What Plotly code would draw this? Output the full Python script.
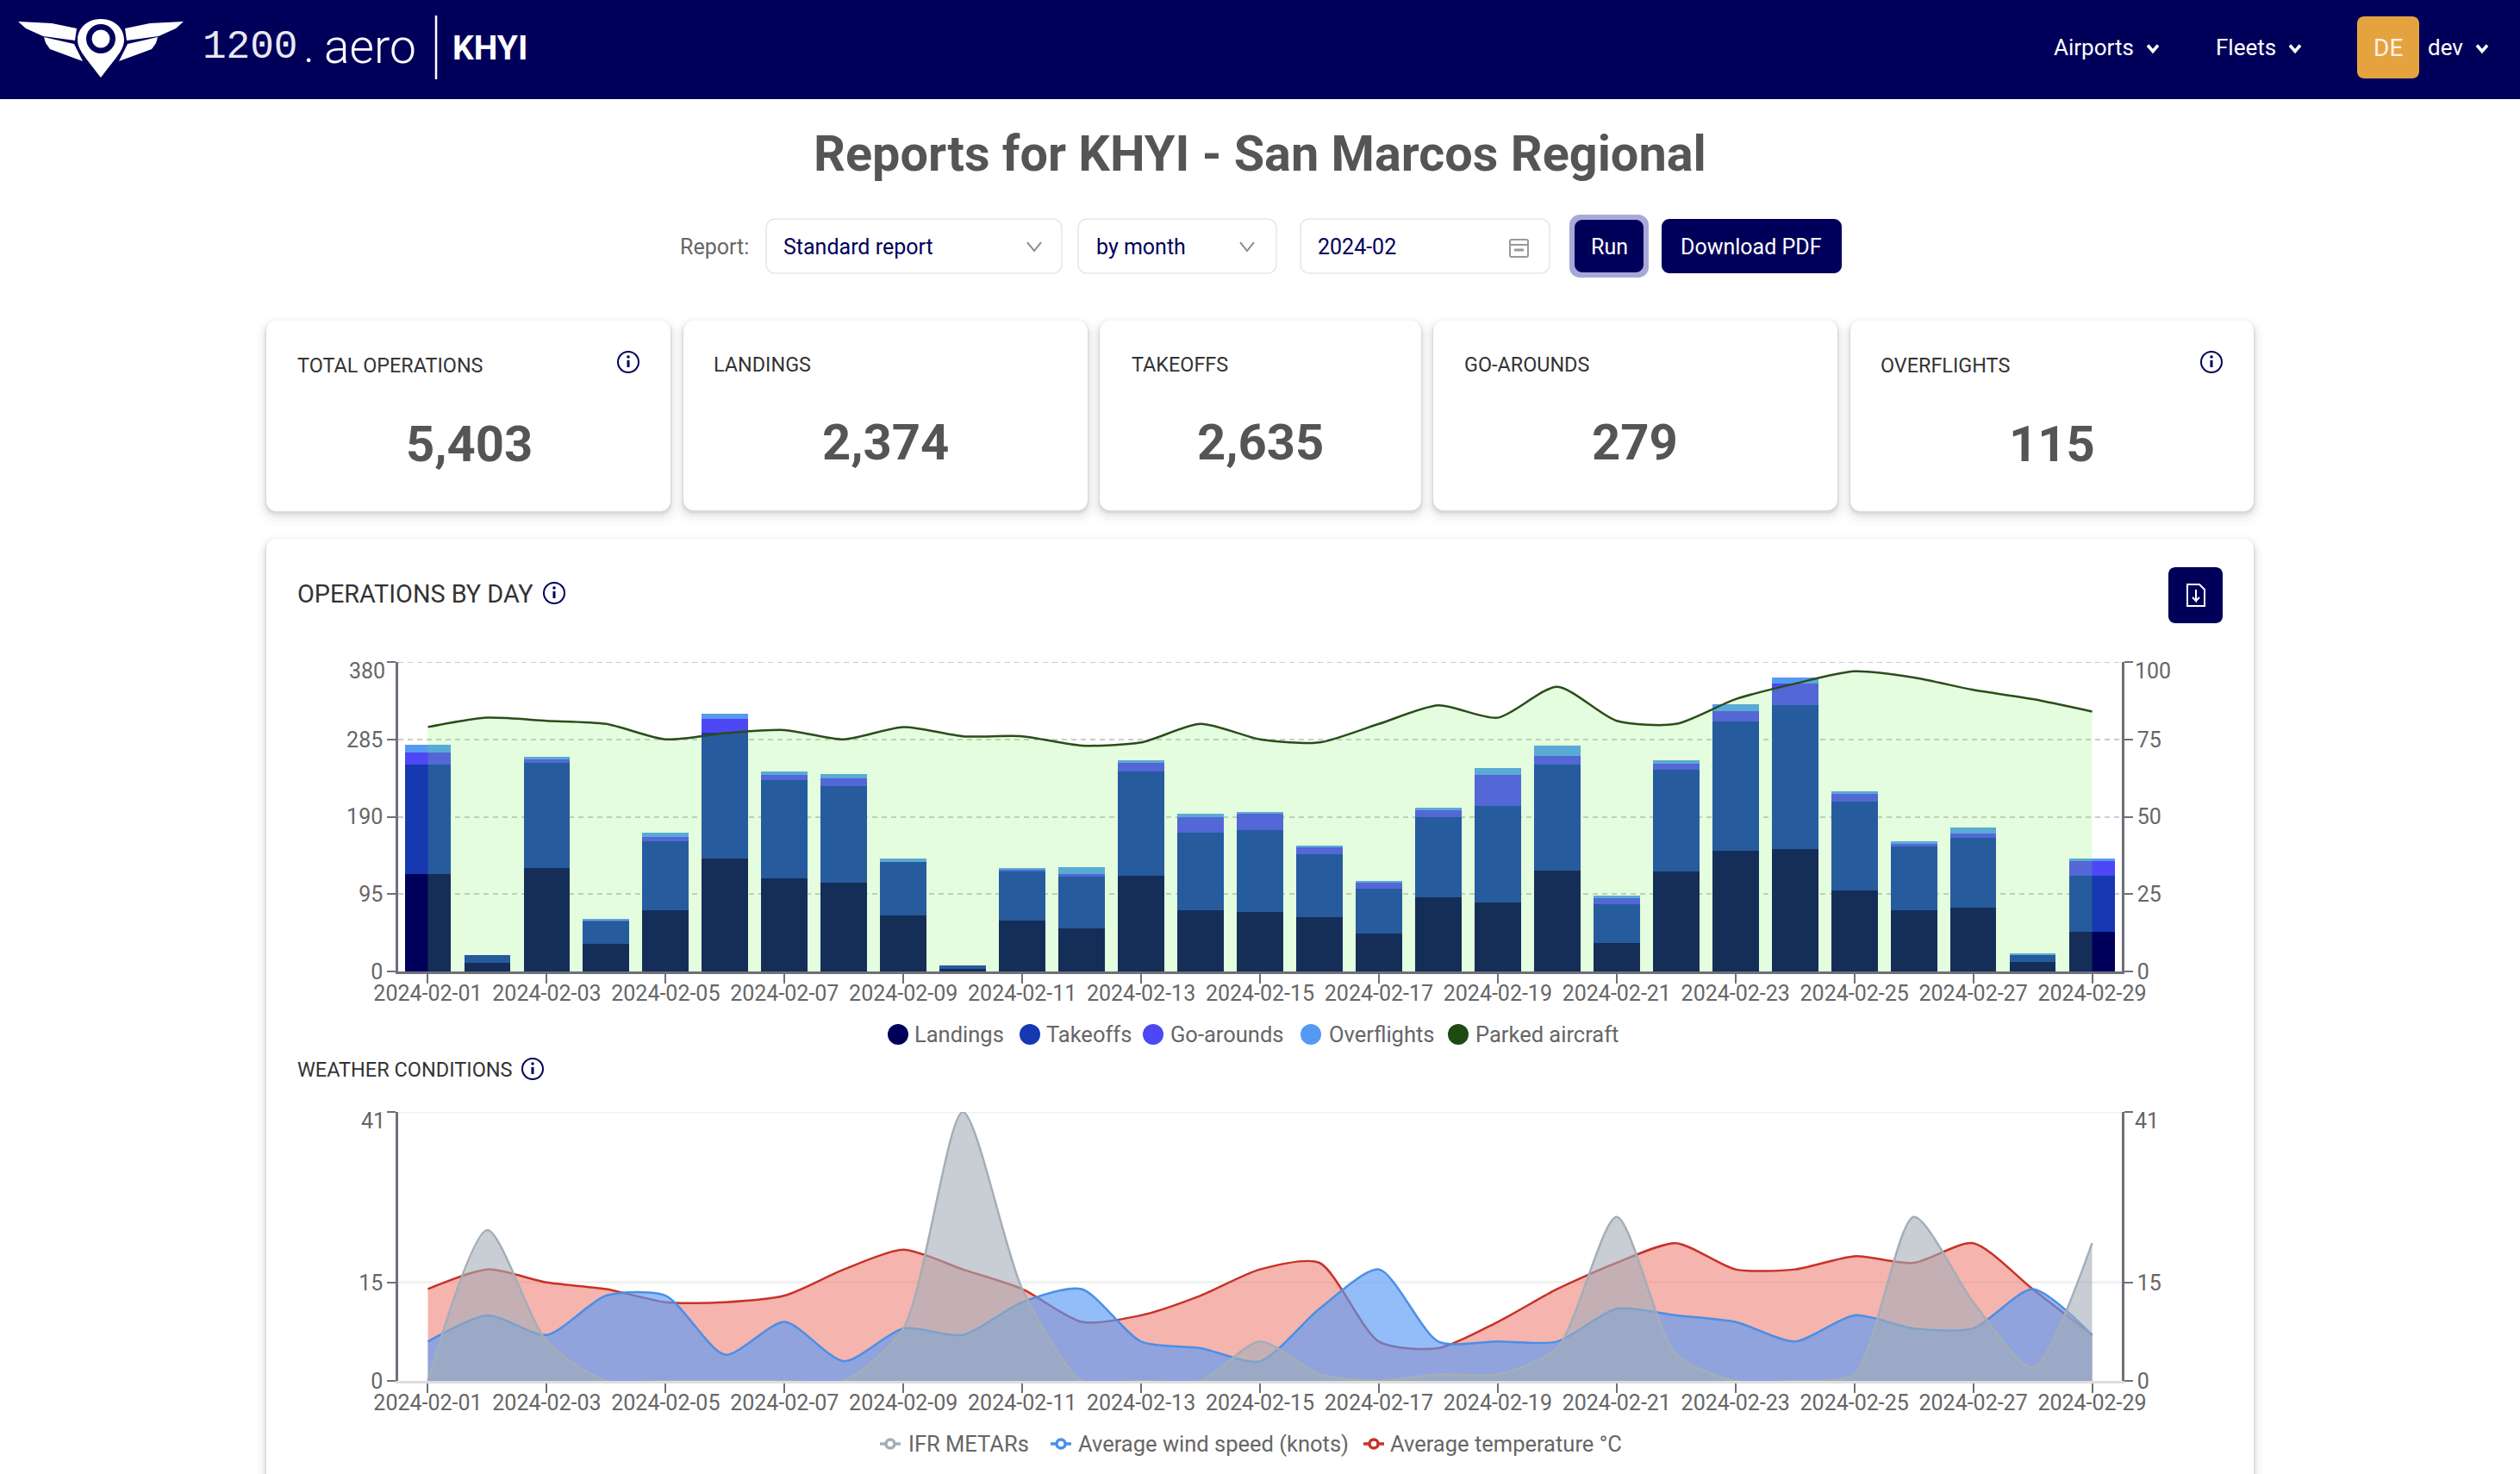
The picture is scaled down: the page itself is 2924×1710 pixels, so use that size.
import plotly.graph_objects as go

W, H = 2924, 1710

# ---------- data ----------
days = [f"2024-02-{d:02d}" for d in range(1, 30)]
tick_days = days[::2]
landings = [120, 11, 127, 34, 75, 139, 114, 109, 69, 3, 62, 53, 118, 75, 73, 67, 47, 91, 85, 124, 35, 123, 148, 150, 100, 75, 78, 12, 49]
takeoffs = [134, 9, 129, 28, 85, 154, 121, 119, 65, 4, 61, 63, 128, 95, 101, 77, 55, 98, 118, 130, 48, 125, 159, 177, 109, 79, 86, 9, 69]
go_arounds = [15, 0, 4, 1, 5, 17, 6, 9, 0, 0, 2, 4, 11, 20, 20, 9, 8, 9, 38, 11, 7, 7, 13, 27, 10, 3, 5, 0, 18]
overflights = [9, 0, 4, 1, 5, 7, 5, 5, 5, 0, 1, 8, 2, 4, 2, 1, 1, 3, 9, 12, 3, 4, 8, 7, 2, 3, 8, 1, 3]
parked = [79, 82, 81, 80, 75, 77, 78, 75, 79, 76, 76, 73, 74, 80, 75, 74, 80, 86, 82, 92, 81, 80, 88, 93, 97, 95, 91, 88, 84]
ifr_metars = [0, 23, 6, 0, 0, 0, 0, 0, 8, 41, 14, 0, 0, 0, 6, 1, 0, 1, 1, 5, 25, 4, 0, 0, 1, 25, 12, 2, 21]
wind_speed = [6, 10, 7, 13, 13, 4, 9, 3, 8, 7, 12, 14, 6, 5, 3, 11, 17, 6, 6, 6, 11, 10, 9, 6, 10, 8, 8, 14, 7]
temperature = [14, 17, 15, 14, 12, 12, 13, 17, 20, 17, 14, 9, 10, 13, 17, 18, 6, 5, 9, 14, 18, 21, 17, 17, 19, 18, 21, 14, 7]
ops_ticks = [0, 95, 190, 285, 380]
parked_ticks = [0, 25, 50, 75, 100]
weather_ticks = [0, 15, 41]
kpi_labels = ["TOTAL OPERATIONS", "LANDINGS", "TAKEOFFS", "GO-AROUNDS", "OVERFLIGHTS"]
kpi_values = ["5,403", "2,374", "2,635", "279", "115"]

# ---------- colours ----------
NAVY = "#00005a"
GREY_TXT = "#666666"
FONT = "Roboto"
AXIS = "#6e7079"


def px(x):
    return x / W


def py(y):
    return 1 - y / H


shapes, annos = [], []


def path(points, fill=None, line=None, lw=0, close=True, layer="below", opacity=1):
    d = "M " + " L ".join(f"{px(x):.5f},{py(y):.5f}" for x, y in points) + (" Z" if close else "")
    shapes.append(dict(type="path", xref="paper", yref="paper", path=d, fillcolor=fill or "rgba(0,0,0,0)",
                       line=dict(color=line or "rgba(0,0,0,0)", width=lw), layer=layer, opacity=opacity))


def rrect(x0, y0, x1, y1, r=10, fill="#ffffff", line=None, lw=0, layer="below", opacity=1):
    k = 0.45 * r
    d = (f"M {px(x0+r):.5f},{py(y0):.5f} L {px(x1-r):.5f},{py(y0):.5f} "
         f"C {px(x1-k):.5f},{py(y0):.5f} {px(x1):.5f},{py(y0+k):.5f} {px(x1):.5f},{py(y0+r):.5f} "
         f"L {px(x1):.5f},{py(y1-r):.5f} "
         f"C {px(x1):.5f},{py(y1-k):.5f} {px(x1-k):.5f},{py(y1):.5f} {px(x1-r):.5f},{py(y1):.5f} "
         f"L {px(x0+r):.5f},{py(y1):.5f} "
         f"C {px(x0+k):.5f},{py(y1):.5f} {px(x0):.5f},{py(y1-k):.5f} {px(x0):.5f},{py(y1-r):.5f} "
         f"L {px(x0):.5f},{py(y0+r):.5f} "
         f"C {px(x0):.5f},{py(y0+k):.5f} {px(x0+k):.5f},{py(y0):.5f} {px(x0+r):.5f},{py(y0):.5f} Z")
    shapes.append(dict(type="path", xref="paper", yref="paper", path=d, fillcolor=fill,
                       line=dict(color=line or "rgba(0,0,0,0)", width=lw), layer=layer, opacity=opacity))


def circle(cx, cy, r, fill="rgba(0,0,0,0)", line=None, lw=0, layer="below"):
    shapes.append(dict(type="circle", xref="paper", yref="paper", x0=px(cx - r), x1=px(cx + r), y0=py(cy + r), y1=py(cy - r),
                       fillcolor=fill, line=dict(color=line or "rgba(0,0,0,0)", width=lw), layer=layer))


def text(x, y, s, size, color="#333333", anchor="left", weight=None, family=FONT):
    f = dict(family=family, size=size, color=color)
    if weight:
        f["weight"] = weight
    annos.append(dict(xref="paper", yref="paper", x=px(x), y=py(y), text=s, showarrow=False, font=f,
                      xanchor=anchor, yanchor="middle", borderpad=0, borderwidth=0))


def card(x0, y0, x1, y1):
    for off, grow, alpha in [(6, 11, 0.015), (5, 7, 0.025), (4, 4, 0.035), (3, 2, 0.05), (2, 1, 0.05)]:
        rrect(x0 - grow, y0 - grow + off, x1 + grow, y1 + grow + off, r=12 + grow, fill=f"rgba(40,40,60,{alpha})")
    rrect(x0, y0, x1, y1, r=12)


def info(cx, cy):
    circle(cx, cy, 12, line=NAVY, lw=2)
    circle(cx, cy - 6, 1.8, fill=NAVY)
    path([(cx, cy - 2), (cx, cy + 6)], line=NAVY, lw=3, close=False)


def chevron(cx, cy, w, h, color, lw):
    path([(cx - w, cy - h), (cx, cy + h), (cx + w, cy - h)], line=color, lw=lw, close=False)


# ---------- header ----------
shapes.append(dict(type="rect", xref="paper", yref="paper", x0=0, x1=1, y0=py(115), y1=1, fillcolor=NAVY, line=dict(width=0), layer="below"))
for pts in ([(21, 25), (60, 27), (89, 33), (87, 47), (50, 42), (30, 33)], [(51, 43), (86, 51), (96, 71), (58, 57), (53, 50)]):
    path(pts, fill="#ffffff")
    path([(234 - x, y) for x, y in pts], fill="#ffffff")
pin = [(117, 22), (134, 22), (144, 34), (144, 46), (144, 58), (135, 66), (117, 90), (99, 66), (90, 58), (90, 46), (90, 34), (100, 22), (117, 22)]
pin_pts = [f"{px(x):.5f},{py(y):.5f}" for x, y in pin]
shapes.append(dict(type="path", xref="paper", yref="paper", fillcolor="#ffffff", line=dict(width=0), layer="below",
                   path="M " + pin_pts[0] + "".join(f" C {pin_pts[i]} {pin_pts[i+1]} {pin_pts[i+2]}" for i in range(1, 12, 3)) + " Z"))
circle(117, 45, 17, fill=NAVY)
circle(117, 45, 10.5, fill="#ffffff")
text(235, 55, "1200", 46, "#e8e8f2", family="Liberation Mono")
text(352, 54, ".", 54, "#ffffff", weight=300)
text(376, 54, "aero", 55, "#ffffff", weight=300)
path([(506, 18), (506, 92)], line="#ffffff", lw=2.5, close=False)
text(525, 56, "KHYI", 39, "#ffffff", weight=700)
text(2383, 55, "Airports", 26, "#ffffff")
chevron(2498, 56, 6, 3.5, "#ffffff", 3.5)
text(2571, 55, "Fleets", 26, "#ffffff")
chevron(2663, 56, 6, 3.5, "#ffffff", 3.5)
rrect(2735, 19, 2807, 91, r=8, fill="#e5a340")
text(2771, 55, "DE", 28, "#fdf3e3", anchor="center")
text(2817, 55, "dev", 26, "#ffffff")
chevron(2880, 56, 6, 3.5, "#ffffff", 3.5)

# ---------- title and controls ----------
text(1462, 179, "Reports for KHYI - San Marcos Regional", 57.6, "#555555", anchor="center", weight=700)
text(869, 286.5, "Report:", 25, GREY_TXT, anchor="right")
for x0, x1 in [(889, 1232), (1251, 1481), (1509, 1798)]:
    rrect(x0, 254, x1, 317, r=10, line="#e6e6ea", lw=1.5)
text(909, 286.5, "Standard report", 25, NAVY)
text(1272, 286.5, "by month", 25, NAVY)
text(1529, 286.5, "2024-02", 25, NAVY)
chevron(1200, 286, 8, 5, "#8a8a8a", 2)
chevron(1447, 286, 8, 5, "#8a8a8a", 2)
rrect(1752, 278, 1773, 298, r=2, fill="#ffffff", line="#999999", lw=2)
path([(1752, 284), (1773, 284)], line="#999999", lw=2, close=False)
path([(1757, 290), (1768, 290)], line="#999999", lw=3, close=False)
rrect(1821, 249, 1913, 322, r=12, fill="#a9a9d8")
rrect(1827, 255, 1907, 316, r=9, fill=NAVY)
text(1867, 286, "Run", 25, "#ffffff", anchor="center")
rrect(1928, 254, 2137, 317, r=9, fill=NAVY)
text(2032, 286, "Download PDF", 25, "#ffffff", anchor="center")

# ---------- KPI cards ----------
cards = [(309, 778, 372, 593), (793, 1262, 372, 592), (1276, 1649, 372, 592), (1663, 2132, 372, 592), (2147, 2615, 372, 593)]
label_x = [345, 828, 1313, 1699, 2182]
label_y = [423.5, 422.5, 422.5, 422.5, 423.5]
value_x = [544, 1027, 1462, 1897, 2381]
value_y = [515, 513, 513, 513, 515]
for c, lab, val, lx, ly, vx, vy in zip(cards, kpi_labels, kpi_values, label_x, label_y, value_x, value_y):
    card(c[0], c[2], c[1], c[3])
    text(lx, ly, lab, 23.4, "#333333")
    text(vx, vy, val, 58, "#555555", anchor="center", weight=700)
info(729, 420)
info(2566, 420)

# ---------- main panel ----------
card(309, 625, 2615, 1760)
text(345, 689, "OPERATIONS BY DAY", 28.8, "#333333")
info(643, 688)
rrect(2516, 658, 2579, 723, r=8, fill=NAVY)
path([(2538, 678), (2552, 678), (2558, 684), (2558, 703), (2538, 703)], line="#ffffff", lw=2)
path([(2548, 684), (2548, 697), (2544, 693), (2548, 697), (2552, 693)], line="#ffffff", lw=2, close=False)
text(345, 1240.5, "WEATHER CONDITIONS", 23.5, "#333333")
info(618, 1240)

# ---------- legends ----------
legend1 = [("Landings", NAVY, 1042, 1061), ("Takeoffs", "#1638b0", 1195, 1214), ("Go-arounds", "#4d47f5", 1338, 1358),
           ("Overflights", "#5599f5", 1521, 1542), ("Parked aircraft", "#1f4a12", 1692, 1712)]
for name, col, cx, tx in legend1:
    circle(cx, 1200, 12, fill=col)
    text(tx, 1200, name, 25.5, GREY_TXT)
legend2 = [("IFR METARs", "#a3aeb8", 1033, 1054), ("Average wind speed (knots)", "#4a8fe7", 1231, 1251),
           ("Average temperature °C", "#c83228", 1594, 1613)]
for name, col, cx, tx in legend2:
    path([(cx - 12, 1675), (cx + 12, 1675)], line=col, lw=3.5, close=False)
    circle(cx, 1675, 5, fill="#ffffff", line=col, lw=3.5)
    text(tx, 1675, name, 25.5, GREY_TXT)

# ---------- traces ----------
fig = go.Figure()
stack = [("Landings", landings, NAVY), ("Takeoffs", takeoffs, "#1638b0"), ("Go-arounds", go_arounds, "#4d47f5"), ("Overflights", overflights, "#5599f5")]
for name, vals, col in stack:
    fig.add_trace(go.Bar(x=days, y=vals, name=name, marker=dict(color=col, line=dict(width=0)), xaxis="x", yaxis="y", showlegend=False))
fig.add_trace(go.Scatter(x=days, y=parked, name="Parked aircraft", mode="lines", xaxis="x", yaxis="y2", showlegend=False,
                         line=dict(color="#2a4d1a", width=2.5, shape="spline", smoothing=0.7), fill="tozeroy", fillcolor="rgba(110,245,80,0.19)"))
for name, vals, line_col, fill_col in [
    ("Average temperature °C", temperature, "#c83228", "rgba(236,118,108,0.55)"),
    ("Average wind speed (knots)", wind_speed, "#4a8fe7", "rgba(89,154,245,0.65)"),
    ("IFR METARs", ifr_metars, "#a3aeb8", "rgba(163,173,183,0.6)"),
]:
    fig.add_trace(go.Scatter(x=days, y=vals, name=name, mode="lines", xaxis="x2", yaxis="y3", showlegend=False,
                             line=dict(color=line_col, width=2.5, shape="spline", smoothing=0.7), fill="tozeroy", fillcolor=fill_col))
fig.add_trace(go.Scatter(x=days[:1], y=[None], mode="lines", xaxis="x2", yaxis="y4", showlegend=False, hoverinfo="skip"))

tick_font = dict(family=FONT, size=25, color=GREY_TXT)
xdom = [px(462), px(2462)]


def xaxis(anchor, line_col):
    return dict(type="category", categoryorder="array", categoryarray=days, domain=xdom, range=[-0.5, 28.5], anchor=anchor,
                tickmode="array", tickvals=tick_days, ticktext=tick_days, ticks="outside", ticklen=11, tickwidth=2, tickcolor=AXIS,
                showline=True, linecolor=line_col, linewidth=2.5, showgrid=False, zeroline=False, tickfont=tick_font, tickangle=0, fixedrange=True,
                ticklabelstandoff=-10)


def yaxis(dom, rng, vals, side, anchor, grid=None, griddash="solid", gw=1, overlay=None):
    d = dict(domain=dom, range=rng, tickmode="array", tickvals=vals, ticktext=[str(v) for v in vals[:-1]] + [""], side=side, anchor=anchor,
             ticks="outside", ticklen=10, tickwidth=2, tickcolor=AXIS, showline=True, linecolor=AXIS, linewidth=2.5, zeroline=False,
             showgrid=bool(grid), tickfont=tick_font, fixedrange=True)
    if grid:
        d.update(gridcolor=grid, griddash=griddash, gridwidth=gw)
    if overlay:
        d["overlaying"] = overlay
    return d


dom1 = [py(1127), py(768)]
dom2 = [py(1602), py(1290)]
fig.update_layout(
    width=W, height=H, autosize=False, margin=dict(l=0, r=0, t=0, b=0, autoexpand=False), paper_bgcolor="#ffffff", plot_bgcolor="rgba(0,0,0,0)",
    barmode="stack", bargap=0.22, showlegend=False, font=dict(family=FONT), hovermode=False,
    xaxis=xaxis("y", AXIS), xaxis2=xaxis("y3", "#dddddd"),
    yaxis=yaxis(dom1, [0, 380], ops_ticks, "left", "x", grid="#cccccc", griddash="6px,5px", gw=2),
    yaxis2=yaxis(dom1, [0, 100], parked_ticks, "right", "x", overlay="y"),
    yaxis3=yaxis(dom2, [0, 41], weather_ticks, "left", "x2", grid="#f2f2f2", gw=3),
    yaxis4=yaxis(dom2, [0, 41], weather_ticks, "right", "x2", overlay="y3"),
)

# gridlines that coincide with the top of the plot area
shapes.append(dict(type="line", xref="paper", yref="y", x0=xdom[0], x1=xdom[1], y0=ops_ticks[-1], y1=ops_ticks[-1],
                   line=dict(color="#cccccc", width=2, dash="6px,5px"), layer="below"))
shapes.append(dict(type="line", xref="paper", yref="y3", x0=xdom[0], x1=xdom[1], y0=weather_ticks[-1], y1=weather_ticks[-1],
                   line=dict(color="#f2f2f2", width=3), layer="below"))

# top-of-axis labels sit just under their ticks
for axis_name, value, label, x, anchor in [("y", 380, "380", 448, "right"), ("y2", 100, "100", 2476, "left"),
                                           ("y3", 41, "41", 448, "right"), ("y4", 41, "41", 2476, "left")]:
    annos.append(dict(xref="paper", yref=axis_name, x=px(x), y=value, yshift=-10, text=label, showarrow=False,
                      font=tick_font, xanchor=anchor, yanchor="middle", borderpad=0))

fig.update_layout(shapes=shapes, annotations=annos)
fig.write_html("out.html", config={"displayModeBar": False},
               post_script="document.body.style.margin='0';document.body.style.overflow='hidden';")
